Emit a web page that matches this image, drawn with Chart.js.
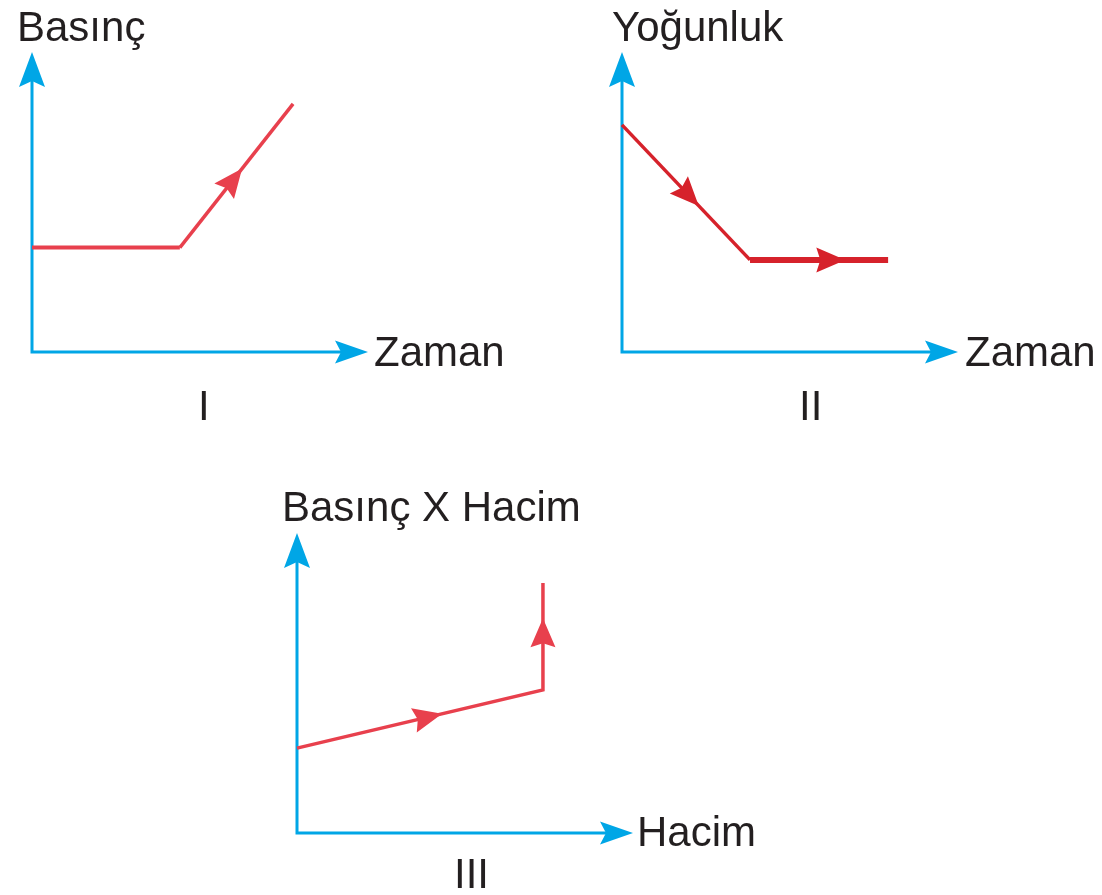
<!DOCTYPE html>
<html>
<head>
<meta charset="utf-8">
<script src="https://cdn.jsdelivr.net/npm/chart.js@4.4.1/dist/chart.umd.min.js"></script>
<style>
  body { margin: 0; background: #fff; width: 1102px; height: 895px; position: relative; overflow: hidden;
         font-family: "Liberation Sans", Arial, sans-serif; }
  canvas { position: absolute; }
  .t { position: absolute; font-size: 42px; line-height: 42px; color: #231f20; white-space: nowrap; }
</style>
</head>
<body>
<canvas id="g1" width="520" height="440" style="left:0;top:0"></canvas>
<canvas id="g2" width="540" height="440" style="left:560px;top:0"></canvas>
<canvas id="g3" width="520" height="425" style="left:240px;top:470px"></canvas>

<div class="t" style="left:17px;top:6px">Basınç</div>
<div class="t" style="left:374px;top:331px">Zaman</div>
<div class="t" style="left:198px;top:385px">I</div>

<div class="t" style="left:612px;top:6px">Yoğunluk</div>
<div class="t" style="left:965px;top:331px">Zaman</div>
<div class="t" style="left:799px;top:385px">II</div>

<div class="t" style="left:282px;top:486px">Basınç X Hacim</div>
<div class="t" style="left:637px;top:811px">Hacim</div>
<div class="t" style="left:454px;top:853px">III</div>

<script>
// Graph I: pressure over time (flat, then rising)
const timeI = [0, 4.4, 7.77];
const pressureI = [3.48, 3.48, 8.27];

// Graph II: density over time (falling, then flat)
const timeII = [0, 3.81, 7.92];
const densityII = [7.57, 3.07, 3.07];

// Graph III: pressure × volume against volume
const volumeIII = [0, 7.32, 7.32];
const pvIII = [2.83, 4.77, 8.33];

// Both axes run from the origin to the arrow tip
const axisMin = 0;
const axisMax = 10;

const AXIS_BLUE = '#00a6e6';

// Filled, slightly notched arrowhead with its tip at (tx, ty)
function arrowHead(ctx, tx, ty, angle, len, half, notch, color) {
  ctx.save();
  ctx.translate(tx, ty);
  ctx.rotate(angle);
  ctx.beginPath();
  ctx.moveTo(0, 0);
  ctx.lineTo(-len, -half);
  ctx.lineTo(-len + notch, 0);
  ctx.lineTo(-len, half);
  ctx.closePath();
  ctx.fillStyle = color;
  ctx.fill();
  ctx.restore();
}

// Draws the blue arrowed axes from the scales, and direction arrows along the curve
const arrowAxes = {
  id: 'arrowAxes',
  beforeDatasetsDraw(chart) {
    const { ctx, scales: { x, y } } = chart;
    const x0 = x.getPixelForValue(axisMin), x1 = x.getPixelForValue(axisMax);
    const y0 = y.getPixelForValue(axisMin), y1 = y.getPixelForValue(axisMax);
    ctx.save();
    ctx.strokeStyle = AXIS_BLUE;
    ctx.lineWidth = 3;
    ctx.lineJoin = 'miter';
    ctx.beginPath();
    ctx.moveTo(x0, y1 + 20);
    ctx.lineTo(x0, y0);
    ctx.lineTo(x1 - 20, y0);
    ctx.stroke();
    ctx.restore();
    arrowHead(ctx, x0, y1, -Math.PI / 2, 35, 13, 6, AXIS_BLUE);
    arrowHead(ctx, x1, y0, 0, 33, 11.5, 6, AXIS_BLUE);
  },
  afterDatasetsDraw(chart, args, opts) {
    const { ctx } = chart;
    const pts = chart.getDatasetMeta(0).data;
    // one entry per segment: where along it the arrow tip sits, or null for none
    (opts.marks || []).forEach((f, i) => {
      if (f == null) return;
      const a = pts[i], b = pts[i + 1];
      const tx = a.x + (b.x - a.x) * f;
      const ty = a.y + (b.y - a.y) * f;
      const ang = Math.atan2(b.y - a.y, b.x - a.x);
      arrowHead(ctx, tx, ty, ang, 29, 12.5, 4, opts.color);
    });
  }
};

function makeGraph(id, xs, ys, color, padding, marks, widths) {
  const ds = {
    data: xs.map((v, i) => ({ x: v, y: ys[i] })),
    showLine: true,
    borderColor: color,
    borderWidth: widths[0],
    borderCapStyle: 'butt',
    borderJoinStyle: 'miter',
    pointRadius: 0,
    pointHoverRadius: 0,
    clip: false,
    segment: { borderWidth: c => widths[c.p0DataIndex] }
  };
  return new Chart(document.getElementById(id), {
    type: 'scatter',
    data: { datasets: [ds] },
    options: {
      responsive: false,
      animation: false,
      events: [],
      layout: { padding },
      scales: {
        x: { type: 'linear', min: axisMin, max: axisMax, display: false },
        y: { type: 'linear', min: axisMin, max: axisMax, display: false }
      },
      plugins: {
        legend: { display: false },
        tooltip: { enabled: false },
        arrowAxes: { marks, color }
      }
    },
    plugins: [arrowAxes]
  });
}

makeGraph('g1', timeI, pressureI, '#e8404d',
  { left: 32, right: 152, top: 52, bottom: 88 }, [null, 0.55], [4, 3.5]);
makeGraph('g2', timeII, densityII, '#d6222b',
  { left: 62, right: 142, top: 52, bottom: 88 }, [0.6, 0.69], [3.5, 6]);
makeGraph('g3', volumeIII, pvIII, '#e8404d',
  { left: 57, right: 127, top: 63, bottom: 62 }, [0.59, 0.67], [3.5, 3.5]);
</script>
</body>
</html>
